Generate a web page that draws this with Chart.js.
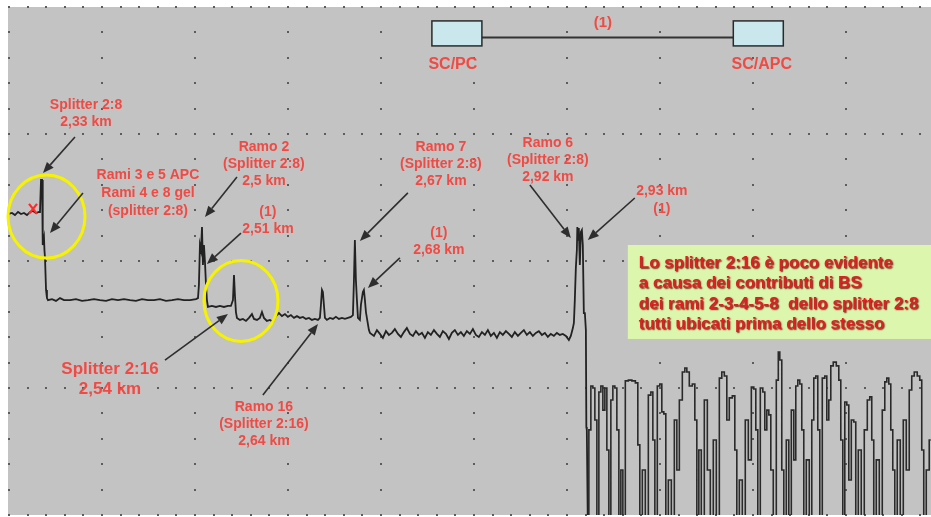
<!DOCTYPE html>
<html><head><meta charset="utf-8">
<script src="https://cdn.jsdelivr.net/npm/chart.js@4/dist/chart.umd.min.js"></script>
<style>html,body{margin:0;padding:0;background:#fff;overflow:hidden}#wrap{width:931px;height:517px;position:relative}</style>
</head><body><div id="wrap"><canvas id="c" width="931" height="517"></canvas></div>
<script>
// OTDR trace: distance (m) and level (dB)
const distM = [
2290,2294.3,2297.5,2300.8,2304.0,2307.2,2310.4,2313.7,2316.9,2320.1,2323.3,2324.4,2325.5,2326.6,2327.1,2327.6,2328.7,2329.2,2329.8,2330.9,2331.9,2333.0,
2337.3,2341.6,2345.9,2350.2,2356.7,2363.1,2369.6,2376.0,2382.5,2388.9,2395.4,2401.8,2408.3,2414.7,2421.2,2427.6,2434.1,2440.5,2447.0,2453.4,2459.9,2466.3,2472.8,2479.2,2485.7,2492.1,2494.3,
2495.3,2496.4,2497.5,2498.6,2499.6,2500.7,2501.8,2502.9,2503.9,2505.0,2509.3,2513.6,2517.9,2522.2,2526.5,2529.7,2531.9,2533.0,2534.0,2535.1,2536.2,
2539.4,2542.6,2545.9,2549.1,2552.3,2554.5,2557.7,2560.9,2563.1,2565.2,2568.4,2571.7,2574.9,2578.1,2581.3,2584.6,2587.8,2591.0,2594.2,2597.5,2600.7,2603.9,2607.1,2610.4,2613.6,2616.8,2620.0,2623.3,
2625.4,2626.5,2627.6,2628.6,2629.7,2630.8,2632.9,2636.2,2639.4,2642.6,2645.8,2649.1,2652.3,2655.5,2658.7,2660.9,2662.0,2663.0,2664.1,2665.2,2666.3,2668.4,2669.5,2671.6,2672.7,2673.8,2674.9,2675.9,2678.1,
2679.2,2683.5,2686.7,2689.9,2693.1,2696.4,2699.6,2702.8,2706.0,2709.3,2712.5,2715.7,2718.9,2722.2,2725.4,2728.6,2731.8,2735.1,2738.3,2741.5,2744.7,2748.0,2751.2,2754.4,2757.6,2760.9,2764.1,2767.3,2770.5,2773.8,2777.0,2780.2,2783.4,2786.7,2789.9,2793.1,2796.3,2799.6,2802.8,2806.0,2809.2,2812.5,2815.7,2818.9,2822.1,2825.4,2828.6,2831.8,2835.0,2838.3,2841.5,2844.7,2847.9,2851.2,2854.4,2857.6,2860.8,2864.1,2867.3,2870.5,2873.7,2877.0,2880.2,2883.4,2886.6,2889.9,2893.1,2895.2,2897.4,
2898.5,2899.5,2900.6,2901.7,2902.2,2903.3,2903.8,2904.9,2906.0,2907.1,2908.1,2909.2,2910.3,2911.4,2911.9,2912.4,2913.5,
2915.7,2917.8,2920.0,2922.1,2924.3,2926.4,2928.6,2930.7,2932.9,2935.0,2937.2,2939.3,2941.5,2943.6,2945.8,2947.9,2950.1,2952.2,2955.4,2958.7,2963.0,2966.2,2968.3,2970.5,2973.7,2976.9,2980.2,2982.3,2984.5,2986.6,2989.8,2992.0,2994.1,2996.3,2998.4,
3001.7,3004.9,3008.1,3010.3,3013.5,3016.7,3018.9,3021.0,3024.2,3027.5,3029.6,3031.8,3033.9,3037.1,3040.4,3043.6,3046.8,3050.0,3053.3,3056.5,3058.6,3061.9,3064.0,3067.2,3070.5,3072.6,3074.8,3078.0,3081.2,3084.4,3087.7,3090.9,3093.0,3095.2,3097.3,
3100.6,3102.7,3104.9,3107.0,3109.2,3111.3,3114.5,3117.8,3118.8,3121.0,3123.1,3125.3,3128.5,3130.7,3133.9,3136.0,3138.2,3140.3,3142.5,3144.6,3146.8,3150.0,3153.2,3155.4,3157.5,3159.7,3161.8,3164.0,3167.2,3169.4,3171.5,3173.7,3175.8,3179.0,3182.3,3184.4,3186.6,3188.7,3190.9,3193.0,3195.2,3198.4,
3200.5,3202.7,3205.9,3209.1,3212.4,3215.6,3217.7,3219.9,3222.0,3225.3,3228.5,3231.7,3233.9,3236.0,3238.2,3240.3,3242.5,3244.6,3247.8,3251.1,3254.3,3257.5,3260.7,3262.9,3266.1,3269.3,3271.5,3273.6,3275.8,3279.0,3282.2
];
const levelDb = [
11.85,11.89,11.81,11.93,11.85,11.89,11.81,11.93,11.97,11.89,11.93,11.93,13.19,13.19,10.83,10.63,10.91,10.43,10.12,8.86,8.54,8.46,
8.50,8.43,8.54,8.46,8.46,8.50,8.43,8.46,8.50,8.46,8.43,8.50,8.46,8.50,8.46,8.43,8.50,8.46,8.46,8.50,8.43,8.46,8.50,8.46,8.46,8.50,8.54,
9.06,10.63,10.43,11.34,9.84,10.63,9.96,9.06,8.46,8.19,8.23,8.19,8.23,8.19,8.23,8.23,8.46,9.45,8.66,7.99,7.76,
7.68,7.72,7.64,7.76,7.91,7.72,7.68,7.76,7.99,7.76,7.64,7.68,7.60,7.83,7.95,7.83,7.91,7.80,7.87,7.76,7.83,7.76,7.80,7.72,7.76,7.68,7.72,7.68,
7.76,8.27,8.86,8.78,8.27,7.76,7.68,7.76,7.72,7.80,7.72,7.76,7.72,7.76,7.80,7.87,9.25,10.83,9.25,8.46,7.76,7.68,8.27,8.78,8.86,8.46,7.99,7.76,7.28,
7.17,7.05,7.28,7.13,6.97,7.24,7.09,7.17,7.32,7.13,7.01,7.20,7.36,7.13,7.05,7.24,7.09,7.17,6.97,7.20,7.09,7.28,7.13,7.01,7.24,7.13,6.93,7.17,7.28,7.09,7.20,7.05,7.24,7.13,7.32,7.09,7.01,7.20,7.09,7.28,7.05,7.17,6.97,7.20,7.09,7.24,7.13,7.01,7.20,7.05,7.17,7.28,7.09,7.20,7.05,7.17,7.24,7.09,7.17,7.01,7.13,7.05,7.17,7.09,7.13,7.05,6.89,7.05,7.36,
7.56,8.46,9.72,10.43,11.34,10.83,11.30,9.84,11.14,11.22,10.63,7.95,7.95,7.28,3.46,3.35,-0.5,
3.35,5.08,5.00,3.74,-0.5,4.84,5.08,4.13,5.00,2.56,-0.5,4.53,5.08,5.00,3.35,-0.5,1.77,-0.5,5.28,5.31,5.28,5.20,2.76,-0.5,1.77,-0.5,4.72,4.84,2.95,-0.5,5.08,5.16,4.06,3.98,-0.5,
1.38,-0.5,3.74,1.77,4.53,5.63,5.79,5.63,5.08,5.16,3.74,-0.5,2.56,-0.5,4.53,1.77,-0.5,2.95,-0.5,5.39,5.63,5.47,3.74,4.61,4.69,2.56,-0.5,1.38,-0.5,3.74,2.17,5.04,4.96,3.35,-0.5,
5.00,4.84,3.35,4.13,3.94,1.77,-0.5,5.31,6.42,6.10,1.77,-0.5,2.95,-0.5,4.13,2.17,5.08,5.31,5.16,3.35,-0.5,2.17,-0.5,3.74,5.39,5.47,3.35,-0.5,5.39,5.47,3.74,4.53,5.87,6.02,5.87,5.31,2.95,-0.5,4.45,4.33,1.38,3.74,
3.66,-0.5,2.56,-0.5,3.35,4.53,4.65,2.95,-0.5,2.17,-0.5,4.13,5.24,5.39,5.16,3.35,1.77,-0.5,2.95,-0.5,3.74,1.77,4.92,5.47,5.63,5.47,5.31,2.56,-0.5,1.77,2.95
];
// End of fibre: beyond this distance the trace is noise
const fibreEndM = 2913.5;

// Grid (major lines every 100 m and 5 dB; dotted at 20 m / 1 dB)
const xMajor = [2290,2390,2490,2590,2690,2790,2890,2990,3090,3190];
const yMajor = [0,5,10,15,20];
const xMinorStep = 20, yMinorStep = 1;

// Annotations (data coordinates)
const labels = [
 {lines:["Splitter 2:8","2,33 km"], x:2373.9, y:16.14, size:14, lh:17},
 {lines:["Rami 3 e 5 APC","Rami 4 e 8 gel","(splitter 2:8)"], x:2440.5, y:13.39, size:14, lh:18},
 {lines:["Ramo 2","(Splitter 2:8)","2,5 km"], x:2565.2, y:14.49, size:14, lh:17},
 {lines:["(1)","2,51 km"], x:2569.5, y:11.93, size:14, lh:17},
 {lines:["Splitter 2:16","2,54 km"], x:2399.7, y:5.75, size:17, lh:20},
 {lines:["Ramo 16","(Splitter 2:16)","2,64 km"], x:2565.2, y:4.25, size:14, lh:17},
 {lines:["Ramo 7","(Splitter 2:8)","2,67 km"], x:2755.5, y:14.49, size:14, lh:17},
 {lines:["(1)","2,68 km"], x:2753.3, y:11.10, size:14, lh:17},
 {lines:["Ramo 6","(Splitter 2:8)","2,92 km"], x:2870.5, y:14.65, size:14, lh:17},
 {lines:["2,93 km","(1)"], x:2993.1, y:12.76, size:14, lh:18},
 {lines:["SC/PC"], x:2768.4, y:17.72, size:16, lh:18},
 {lines:["SC/APC"], x:3100.6, y:17.72, size:16, lh:18},
 {lines:["(1)"], x:2929.6, y:19.37, size:15, lh:18}
];
const arrows = [
 [2362.0,14.88,2327.6,13.46],
 [2370.6,12.68,2335.2,11.10],
 [2536.2,13.31,2501.8,11.73],
 [2540.5,11.10,2503.9,9.88],
 [2458.8,6.10,2526.5,7.91],
 [2564.1,4.72,2623.3,7.52],
 [2720.0,12.68,2668.4,10.79],
 [2711.4,10.12,2677.0,8.94],
 [2851.2,12.99,2895.2,10.91],
 [2964.0,12.48,2913.5,10.83]
];
const circles = [ {x:2331.4, y:11.75, rx:38.5, ry:41.5}, {x:2540.5, y:8.43, rx:37, ry:40.5} ];
const crossMark = {x:2316.9, y:12.05};
const connectors = [ {x:2772.7, y:18.96}, {x:3096.8, y:18.96} ];
const noteBox = {x:2956.5, yTop:10.63, yBottom:6.93, textX:2968.3, textY:9.92, lh:20.5,
 lines:["Lo splitter 2:16 è poco evidente","a causa dei contributi di BS","dei rami 2-3-4-5-8  dello splitter 2:8","tutti ubicati prima dello stesso"]};

const RED = '#f04a44';
const FONT = '"Liberation Sans", Arial, sans-serif';

const bgPlugin = {
  id:'otdrBg',
  beforeDraw(chart){
    const {ctx, chartArea:a, scales:{x, y}} = chart;
    ctx.save();
    ctx.fillStyle='#ffffff'; ctx.fillRect(0,0,chart.width,chart.height);
    ctx.fillStyle='#c3c3c3'; ctx.fillRect(a.left,a.top,a.right-a.left,a.bottom-a.top);
    ctx.fillStyle='#5c5c5c';
    for(const xv of xMajor){
      const px=Math.round(x.getPixelForValue(xv));
      for(let d=y.min; d<=y.max+1e-6; d+=yMinorStep){
        const py=Math.round(y.getPixelForValue(d));
        ctx.fillRect(px,py-1,2,2);
      }
    }
    for(const yv of yMajor){
      const py=Math.round(y.getPixelForValue(yv));
      for(let m=x.min; m<=x.max; m+=xMinorStep){
        const px=Math.round(x.getPixelForValue(m));
        ctx.fillRect(px,py-1,2,2);
      }
    }
    ctx.restore();
  }
};

function arrow(ctx,x1,y1,x2,y2){
  const ang=Math.atan2(y2-y1,x2-x1), L=11, W=4.5;
  const bx=x2-L*Math.cos(ang), by=y2-L*Math.sin(ang);
  ctx.beginPath(); ctx.moveTo(x1,y1); ctx.lineTo(bx,by); ctx.stroke();
  ctx.beginPath(); ctx.moveTo(x2,y2);
  ctx.lineTo(bx+W*Math.sin(ang), by-W*Math.cos(ang));
  ctx.lineTo(bx-W*Math.sin(ang), by+W*Math.cos(ang));
  ctx.closePath(); ctx.fill();
}

const annoPlugin = {
  id:'otdrAnno',
  afterDatasetsDraw(chart){
    const {ctx, chartArea:a, scales:{x, y}} = chart;
    ctx.save();
    ctx.strokeStyle='#f6f200'; ctx.lineWidth=3;
    for(const c of circles){
      ctx.beginPath(); ctx.ellipse(x.getPixelForValue(c.x), y.getPixelForValue(c.y), c.rx, c.ry, 0, 0, Math.PI*2); ctx.stroke();
    }
    const cx=x.getPixelForValue(crossMark.x), cy=y.getPixelForValue(crossMark.y);
    ctx.strokeStyle='#ff2a2a'; ctx.lineWidth=2.2;
    ctx.beginPath(); ctx.moveTo(cx-4,cy-5); ctx.lineTo(cx+4,cy+5); ctx.moveTo(cx+4,cy-5); ctx.lineTo(cx-4,cy+5); ctx.stroke();
    ctx.strokeStyle='#2e2e2e'; ctx.fillStyle='#2e2e2e'; ctx.lineWidth=1.6;
    for(const ar of arrows){
      arrow(ctx, x.getPixelForValue(ar[0]), y.getPixelForValue(ar[1]), x.getPixelForValue(ar[2]), y.getPixelForValue(ar[3]));
    }
    const b1x=x.getPixelForValue(connectors[0].x), b2x=x.getPixelForValue(connectors[1].x), by=y.getPixelForValue(connectors[0].y);
    ctx.strokeStyle='#333'; ctx.lineWidth=2;
    ctx.beginPath(); ctx.moveTo(b1x+25, by+4); ctx.lineTo(b2x-25, by+4); ctx.stroke();
    for(const bx of [b1x,b2x]){
      ctx.fillStyle='#c9e7ec'; ctx.fillRect(bx-25, by-12.5, 50, 25);
      ctx.strokeStyle='#2a2a2a'; ctx.lineWidth=1.5; ctx.strokeRect(bx-25, by-12.5, 50, 25);
    }
    ctx.fillStyle=RED; ctx.textAlign='center'; ctx.textBaseline='middle';
    for(const l of labels){
      ctx.font='bold '+l.size+'px '+FONT;
      const px=x.getPixelForValue(l.x), py=y.getPixelForValue(l.y);
      l.lines.forEach((t,i)=>ctx.fillText(t, px, py+i*l.lh));
    }
    const nx=x.getPixelForValue(noteBox.x), nt=y.getPixelForValue(noteBox.yTop), nb=y.getPixelForValue(noteBox.yBottom);
    ctx.fillStyle='#ddf6ad'; ctx.fillRect(nx, nt, a.right-nx, nb-nt);
    ctx.font='bold 17px '+FONT; ctx.textAlign='left';
    ctx.shadowColor='rgba(90,0,0,0.85)'; ctx.shadowBlur=1.5; ctx.shadowOffsetX=1; ctx.shadowOffsetY=1;
    ctx.fillStyle='#de2020';
    const tx=x.getPixelForValue(noteBox.textX), ty=y.getPixelForValue(noteBox.textY);
    noteBox.lines.forEach((t,i)=>ctx.fillText(t, tx, ty+i*noteBox.lh));
    ctx.restore();
  }
};

const pts = distM.map((m,i)=>({x:m, y:levelDb[i]}));
new Chart(document.getElementById('c'), {
  type:'line',
  data:{ datasets:[
    { data: pts.filter(p=>p.x<=fibreEndM), borderColor:'#222222', borderWidth:1.8, pointRadius:0, tension:0, stepped:false, fill:false },
    { data: pts.filter(p=>p.x>=fibreEndM), borderColor:'#2a2a2a', borderWidth:1.6, pointRadius:0, tension:0, stepped:'middle', fill:false }
  ]},
  options:{
    responsive:false, devicePixelRatio:1, animation:false,
    layout:{padding:{left:8, top:7, right:0, bottom:2}},
    plugins:{legend:{display:false}, tooltip:{enabled:false}},
    scales:{
      x:{type:'linear', min:2290, max:3282.5, display:false},
      y:{min:0, max:20, display:false}
    }
  },
  plugins:[bgPlugin, annoPlugin]
});
</script></body></html>
